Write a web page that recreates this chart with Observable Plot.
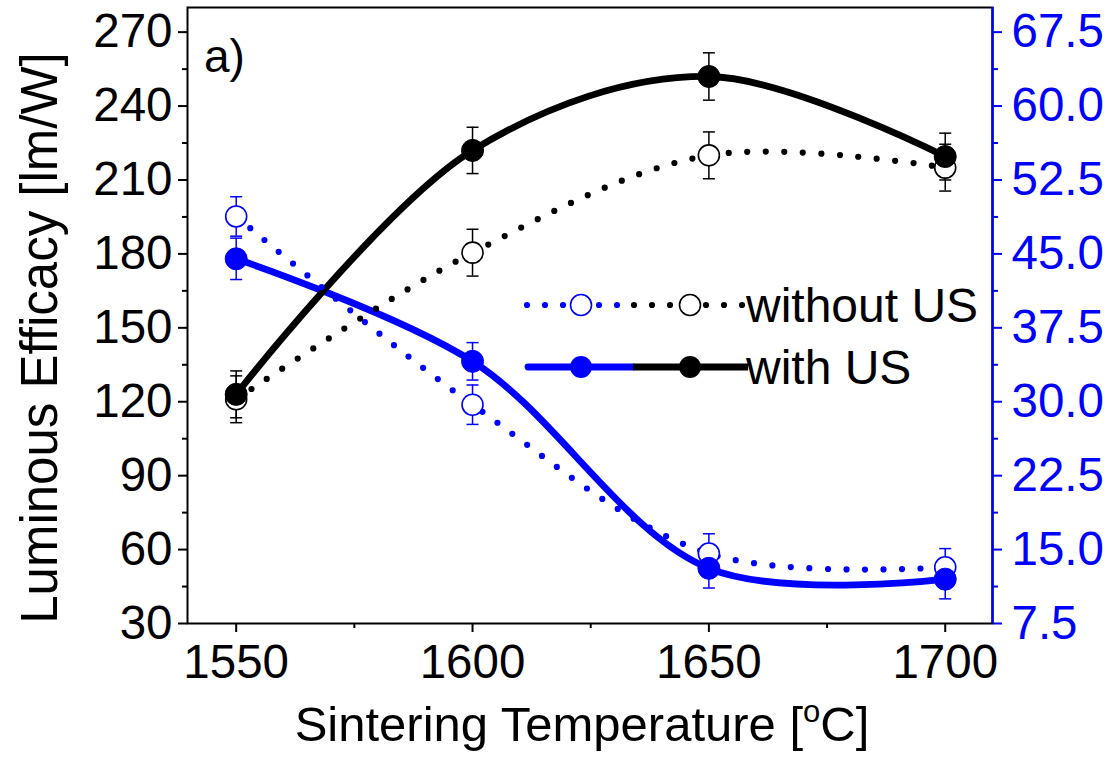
<!DOCTYPE html>
<html>
<head>
<meta charset="utf-8">
<script src="https://cdn.jsdelivr.net/npm/d3@7"></script>
<script src="https://cdn.jsdelivr.net/npm/@observablehq/plot@0.6"></script>
<style>
  html, body { margin: 0; padding: 0; background: #fff; }
  #chart { width: 1114px; height: 758px; }
</style>
</head>
<body>
<div id="chart"></div>
<script>
// ---- data ----
const temps = [1550, 1600, 1650, 1700];               // Sintering Temperature [°C]
// left axis: Luminous Efficacy [lm/W] (black)
const effWithUS = [123, 222, 252, 219.5];
const effWithUSErr = [9.5, 9.4, 9.6, 9.5];
const effWithoutUS = [121, 180.5, 220, 215];
const effWithoutUSErr = [9.5, 9.5, 9.5, 9.5];
// right axis (blue)
const rightWithUS = [44.5, 34.1, 13.1, 12.0];
const rightWithUSErr = [2.1, 1.9, 2.0, 2.0];
const rightWithoutUS = [48.8, 29.7, 14.6, 13.2];
const rightWithoutUSErr = [2.0, 2.0, 2.0, 1.9];

const xTicks = [1550, 1600, 1650, 1700];
const xMinorTicks = [1575, 1625, 1675];
const leftTicks = [30, 60, 90, 120, 150, 180, 210, 240, 270];
const leftMinorTicks = [45, 75, 105, 135, 165, 195, 225, 255];
const rightPerLeft = 4;   // right-axis value = left value / 4
const xDomain = [1539.7, 1710];
const yDomain = [30, 280];

const legendLabels = ["without US", "with US"];

function rows(vals, errs, k) {
  return temps.map((t, i) => ({t, y: vals[i] * k, e: errs[i] * k}));
}

const series = [
  {key: "blueWith", color: "blue", filled: true, dotted: false, data: rows(rightWithUS, rightWithUSErr, rightPerLeft)},
  {key: "blackWith", color: "black", filled: true, dotted: false, data: rows(effWithUS, effWithUSErr, 1)},
  {key: "blueWithout", color: "blue", filled: false, dotted: true, data: rows(rightWithoutUS, rightWithoutUSErr, rightPerLeft)},
  {key: "blackWithout", color: "black", filled: false, dotted: true, data: rows(effWithoutUS, effWithoutUSErr, 1)}
];

const capSymbol = {
  draw(ctx, size) {
    const w = Math.sqrt(size / Math.PI);
    ctx.moveTo(-w, 0);
    ctx.lineTo(w, 0);
  }
};

const LINE_W = 6.8, DOT_W = 6.2, DOT_GAP = "0 18.5";

const marks = [];
// error bars
for (const s of series) {
  marks.push(Plot.ruleX(s.data, {x: "t", y1: d => d.y - d.e, y2: d => d.y + d.e, stroke: s.color, strokeWidth: 1.5}));
  marks.push(Plot.dot(s.data, {x: "t", y: d => d.y + d.e, symbol: capSymbol, r: 6, stroke: s.color, strokeWidth: 1.5, fill: "none"}));
  marks.push(Plot.dot(s.data, {x: "t", y: d => d.y - d.e, symbol: capSymbol, r: 6, stroke: s.color, strokeWidth: 1.5, fill: "none"}));
}
// lines: solid then dotted
for (const s of series.filter(s => !s.dotted)) {
  marks.push(Plot.line(s.data, {x: "t", y: "y", curve: "catmull-rom", stroke: s.color, strokeWidth: LINE_W, strokeLinecap: "round"}));
}
for (const s of series.filter(s => s.dotted)) {
  marks.push(Plot.line(s.data, {x: "t", y: "y", curve: "catmull-rom", stroke: s.color, strokeWidth: DOT_W,
    strokeDasharray: DOT_GAP, strokeLinecap: "round"}));
}
// open markers
for (const s of series.filter(s => !s.filled)) {
  marks.push(Plot.dot(s.data, {x: "t", y: "y", r: 10.5, fill: "white", stroke: s.color, strokeWidth: 1.6}));
}
// filled markers
for (const s of series.filter(s => s.filled)) {
  marks.push(Plot.dot(s.data, {x: "t", y: "y", r: 11, fill: s.color, stroke: s.color, strokeWidth: 1}));
}

const chart = Plot.plot({
  width: 1114,
  height: 758,
  marginLeft: 187,
  marginRight: 122,
  marginTop: 7,
  marginBottom: 135,
  style: {fontFamily: "'Liberation Sans', Arial, sans-serif", fontSize: "47.5px", background: "white", color: "black"},
  x: {domain: xDomain, axis: null},
  y: {domain: yDomain, axis: null},
  marks: [
    Plot.frame({stroke: "black", strokeWidth: 2}),
    ...marks,
    Plot.axisX({ticks: xTicks, tickSize: 9, tickPadding: 12, strokeWidth: 2, label: null, tickFormat: d => String(d)}),
    Plot.axisX({ticks: xMinorTicks, tickSize: 5, strokeWidth: 2, label: null, tickFormat: () => ""}),
    Plot.axisY({ticks: leftTicks, tickSize: 9, tickPadding: 6, strokeWidth: 2, label: null, tickFormat: d => String(d)}),
    Plot.axisY({ticks: leftMinorTicks, tickSize: 5, strokeWidth: 2, label: null, tickFormat: () => ""}),
    Plot.axisY({anchor: "right", ticks: leftTicks, tickSize: 9, tickPadding: 10, strokeWidth: 2, color: "blue", label: null,
      tickFormat: d => (d / rightPerLeft).toFixed(1)}),
    Plot.axisY({anchor: "right", ticks: leftMinorTicks, tickSize: 5, strokeWidth: 2, color: "blue", label: null, tickFormat: () => ""}),
    Plot.ruleX([xDomain[1]], {stroke: "blue", strokeWidth: 2.5})
  ]
});

document.getElementById("chart").appendChild(chart);

// ---- labels, panel tag and legend ----
const svg = d3.select(chart);
const font = "'Liberation Sans', Arial, sans-serif";

svg.append("text")
  .attr("x", 582).attr("y", 741)
  .attr("text-anchor", "middle")
  .attr("font-family", font).attr("font-size", 49).attr("fill", "black")
  .call(t => {
    t.append("tspan").text("Sintering Temperature [");
    t.append("tspan").attr("font-size", 31).attr("dy", -19).text("o");
    t.append("tspan").attr("dy", 19).text("C]");
  });

svg.append("text")
  .attr("transform", "translate(57,338) rotate(-90)")
  .attr("text-anchor", "middle")
  .attr("font-family", font).attr("font-size", 51).attr("fill", "black")
  .text("Luminous Efficacy [lm/W]");

svg.append("text")
  .attr("x", 204).attr("y", 72)
  .attr("text-anchor", "start")
  .attr("font-family", font).attr("font-size", 46).attr("fill", "black")
  .text("a)");

const lg = svg.append("g");
const rowsY = [305, 367];
// row 1: without US (dotted, open)
[[527, 633, "blue"], [634, 745, "black"]].forEach(([a, b, c]) => {
  lg.append("line").attr("x1", a).attr("x2", b).attr("y1", rowsY[0]).attr("y2", rowsY[0])
    .attr("stroke", c).attr("stroke-width", DOT_W).attr("stroke-dasharray", "0 18").attr("stroke-linecap", "round");
});
lg.append("circle").attr("cx", 581).attr("cy", rowsY[0]).attr("r", 10.5).attr("fill", "white").attr("stroke", "blue").attr("stroke-width", 1.6);
lg.append("circle").attr("cx", 690).attr("cy", rowsY[0]).attr("r", 10.5).attr("fill", "white").attr("stroke", "black").attr("stroke-width", 1.6);
// row 2: with US (solid, filled)
lg.append("line").attr("x1", 528).attr("x2", 633).attr("y1", rowsY[1]).attr("y2", rowsY[1])
  .attr("stroke", "blue").attr("stroke-width", LINE_W).attr("stroke-linecap", "round");
lg.append("line").attr("x1", 633).attr("x2", 748).attr("y1", rowsY[1]).attr("y2", rowsY[1])
  .attr("stroke", "black").attr("stroke-width", LINE_W);
lg.append("circle").attr("cx", 581).attr("cy", rowsY[1]).attr("r", 11).attr("fill", "blue");
lg.append("circle").attr("cx", 690).attr("cy", rowsY[1]).attr("r", 11).attr("fill", "black");
legendLabels.forEach((lab, i) => {
  lg.append("text").attr("x", 746).attr("y", rowsY[i] + 17)
    .attr("text-anchor", "start")
    .attr("font-family", font).attr("font-size", 48).attr("fill", "black").text(lab);
});
</script>
</body>
</html>
